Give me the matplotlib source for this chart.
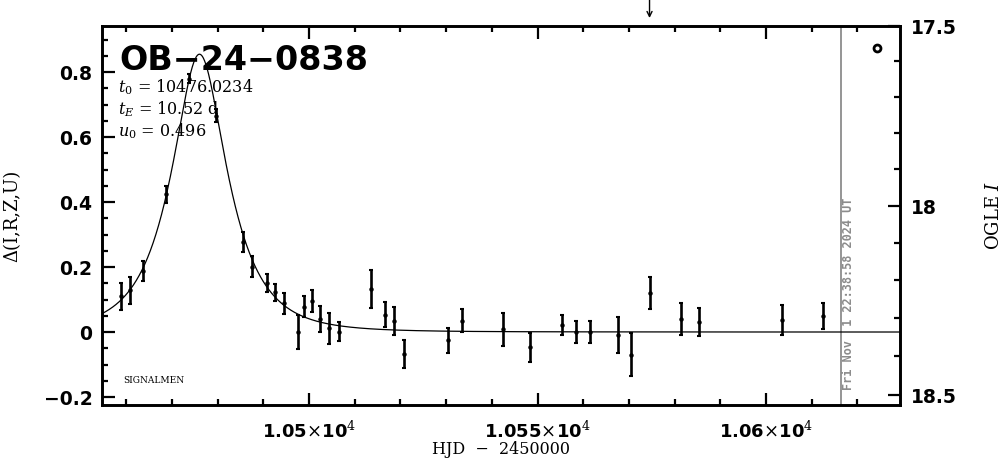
import numpy as np
import matplotlib
matplotlib.use("Agg")
import matplotlib.pyplot as plt
import matplotlib.transforms as mtransforms
from matplotlib.ticker import FixedLocator, MultipleLocator, FuncFormatter

# ---------------- data ----------------
event_name = "OB\u221224\u22120838"
t0 = 10476.0234
tE = 10.52
u0 = 0.496

hjd = [10458.8, 10460.8, 10463.6, 10468.6, 10473.7, 10479.6, 10485.6, 10487.6,
       10490.7, 10492.5, 10494.5, 10497.5, 10498.8, 10500.7, 10502.5, 10504.4,
       10506.5, 10513.6, 10516.6, 10518.6, 10520.7, 10530.5, 10533.5, 10542.5,
       10548.4, 10555.4, 10558.5, 10561.4, 10567.5, 10570.5, 10574.5, 10581.4,
       10585.4, 10603.5, 10612.4]
delta = [0.110, 0.128, 0.189, 0.424, 0.780, 0.666, 0.278, 0.201,
         0.151, 0.122, 0.088, 0.001, 0.078, 0.095, 0.039, 0.011,
         0.001, 0.132, 0.053, 0.034, -0.068, -0.025, 0.035, 0.008,
         -0.047, 0.022, 0.000, 0.000, -0.008, -0.070, 0.121, 0.039,
         0.031, 0.037, 0.049]
err = [0.041, 0.042, 0.031, 0.026, 0.013, 0.021, 0.031, 0.032,
       0.029, 0.026, 0.031, 0.052, 0.032, 0.033, 0.040, 0.048,
       0.029, 0.059, 0.038, 0.044, 0.042, 0.038, 0.035, 0.051,
       0.044, 0.031, 0.035, 0.034, 0.055, 0.066, 0.049, 0.049,
       0.042, 0.045, 0.040]

symbol_x = [10624.3]
symbol_y = [0.874]

arrow_hjd = 10574.5
now_hjd = 10616.44
now_label = "Fri Nov  1 22:38:58 2024 UT"

x_major = [10500, 10550, 10600]
x_labels = ["1.05$\\times$10$^4$", "1.055$\\times$10$^4$", "1.06$\\times$10$^4$"]
y_major = [-0.2, 0.0, 0.2, 0.4, 0.6, 0.8]
mag_major = [17.5, 18.0, 18.5]
mag_minor = [17.6, 17.7, 17.8, 17.9, 18.1, 18.2, 18.3, 18.4]
# OGLE I magnitude as function of delta: m = a + b*d + c*d^2
mag_coef = (18.3362, -0.85246, -0.037866)

xlim = (10454.7, 10629.3)
ylim = (-0.2246, 0.9417)

# ---------------- figure ----------------
plt.rcParams['mathtext.fontset'] = 'dejavuserif'
fig = plt.figure(figsize=(10.04, 4.59), dpi=100)
ax = fig.add_axes([0.1016, 0.1176, 0.7948, 0.8258])

def delta_of_mag(m):
    a, b, c = mag_coef
    m = np.asarray(m, dtype=float)
    disc = b * b - 4 * c * (a - m)
    return (-b - np.sqrt(disc)) / (2 * c)

def mag_of_delta(d):
    a, b, c = mag_coef
    return a + b * d + c * d * d

def paczynski(t):
    u = np.sqrt(u0 ** 2 + ((t - t0) / tE) ** 2)
    A = (u ** 2 + 2) / (u * np.sqrt(u ** 2 + 4))
    return 2.5 * np.log10(A)

tt = np.linspace(xlim[0], xlim[1], 2000)
ax.plot(tt, paczynski(tt), color='black', lw=0.9, zorder=2)

ax.errorbar(hjd, delta, yerr=err, fmt='o', ms=2.2, color='black',
            ecolor='black', elinewidth=1.9, capsize=1.6, capthick=1.5, zorder=3)

ax.plot(symbol_x, symbol_y, 'o', ms=5, mfc='none', mec='black', mew=2.0,
        clip_on=False, zorder=4)

ax.axvline(now_hjd, color='#8c8c8c', lw=1.3, zorder=1)
tr = mtransforms.offset_copy(ax.get_xaxis_transform(), fig=fig, x=5.5, y=0, units='points')
ax.text(now_hjd, 0.04, now_label, transform=tr, rotation=90, ha='center', va='bottom',
        color='#8c8c8c', fontsize=8.6, fontweight='bold', family='DejaVu Sans Mono')

ax.annotate('', xy=(arrow_hjd, 1.021), xytext=(arrow_hjd, 1.075),
            xycoords=('data', 'axes fraction'), textcoords=('data', 'axes fraction'),
            arrowprops=dict(arrowstyle='->', lw=1.0, color='black', shrinkA=0, shrinkB=0,
                            mutation_scale=9),
            annotation_clip=False)

ax.set_xlim(*xlim)
ax.set_ylim(*ylim)

# x axis
ax.xaxis.set_major_locator(FixedLocator(x_major))
ax.set_xticklabels(x_labels)
ax.xaxis.set_minor_locator(MultipleLocator(10))
# y axis
ax.yaxis.set_major_locator(FixedLocator(y_major))
ax.yaxis.set_major_formatter(FuncFormatter(lambda v, p: ('%g' % round(v, 3)).replace('-', '\u2212')))
ax.yaxis.set_minor_locator(MultipleLocator(0.05))

ax.tick_params(axis='both', which='both', direction='in', width=1.6, labelsize=13.5)
ax.tick_params(axis='x', which='both', top=True, bottom=True)
ax.tick_params(axis='y', which='both', left=True, right=False)
ax.tick_params(which='major', length=9)
ax.tick_params(which='minor', length=4.5)
ax.tick_params(axis='x', which='major', pad=11, labelsize=13)
ax.tick_params(axis='y', which='major', pad=7)
for lab in ax.get_xticklabels() + ax.get_yticklabels():
    lab.set_fontweight('bold')
for s in ax.spines.values():
    s.set_linewidth(1.9)

ax.set_xlabel('HJD  \u2212  2450000', fontsize=11.5, family='DejaVu Serif', va='bottom')
ax.xaxis.set_label_coords(0.5, -0.1395)
ax.set_ylabel('\u0394(I,R,Z,U)', fontsize=13, family='DejaVu Serif', labelpad=16)

# right axis (OGLE I)
ax2 = ax.twinx()
ax2.set_ylim(*ylim)
ax2.yaxis.set_major_locator(FixedLocator(delta_of_mag(mag_major)))
ax2.yaxis.set_major_formatter(FuncFormatter(lambda v, p: '%g' % round(mag_of_delta(v), 1)))
ax2.yaxis.set_minor_locator(FixedLocator(delta_of_mag(mag_minor)))
ax2.tick_params(axis='y', which='both', direction='in', width=1.6, labelsize=13.5, pad=8)
ax2.tick_params(which='major', length=9)
ax2.tick_params(which='minor', length=4.5)
for lab in ax2.get_yticklabels():
    lab.set_fontweight('bold')
for s in ax2.spines.values():
    s.set_linewidth(1.9)
ax2.set_ylabel('OGLE $I$', fontsize=13, family='DejaVu Serif', rotation=90, labelpad=20)

# annotations
ax.text(0.022, 0.885, event_name, transform=ax.transAxes, fontsize=24,
        fontweight='bold', ha='left', va='baseline')
ax.text(0.02, 0.825, '$t_0$ = %.4f' % t0, transform=ax.transAxes, fontsize=11.5,
        family='DejaVu Serif', va='baseline')
ax.text(0.02, 0.767, '$t_E$ = %.2f d' % tE, transform=ax.transAxes, fontsize=11.5,
        family='DejaVu Serif', va='baseline')
ax.text(0.02, 0.709, '$u_0$ = %.3f' % u0, transform=ax.transAxes, fontsize=11.5,
        family='DejaVu Serif', va='baseline')
ax.text(0.026, 0.058, 'SIGNALMEN', transform=ax.transAxes, fontsize=6.5,
        family='DejaVu Serif', va='baseline')

fig.savefig('out.png', dpi=100)
